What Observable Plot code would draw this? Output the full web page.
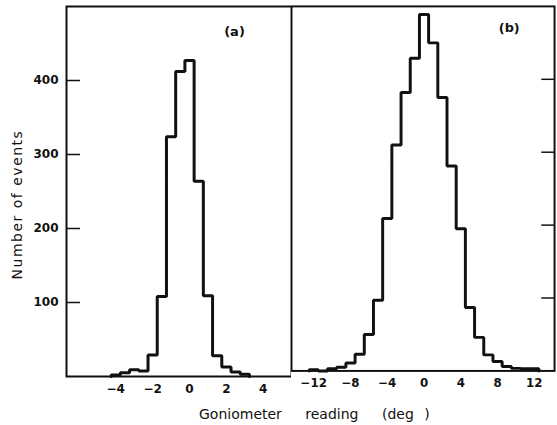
<!DOCTYPE html>
<html><head><meta charset="utf-8">
<script src="https://cdn.jsdelivr.net/npm/d3@7"></script>
<script src="https://cdn.jsdelivr.net/npm/@observablehq/plot@0.6"></script>
<style>
html,body{margin:0;padding:0;background:#fff;overflow:hidden;}
#wrap{position:relative;width:557px;height:425px;overflow:hidden;background:#fff;}
#pa{position:absolute;left:0;top:0;}
#pb{position:absolute;left:291px;top:0;}
#xlabel{position:absolute;left:199px;top:406px;font:14px "DejaVu Sans";word-spacing:19px;white-space:nowrap;color:#111;}
#xlabel span{word-spacing:6px;}
</style></head><body>
<div id="wrap"><div id="pa"></div><div id="pb"></div><div id="xlabel">Goniometer reading <span>(deg )</span></div></div>
<script>
// Panel (a): bin centres (deg) and counts, bin width 0.5
const centersA = [-4,-3.5,-3,-2.5,-2,-1.5,-1,-0.5,0,0.5,1,1.5,2,2.5,3];
const countsA  = [2,5,9,7.5,29,108,324,412,427,264,109,28,13,6,3];
// Panel (b): bin centres (deg) and counts, bin width 1
const centersB = [-12,-11,-10,-9,-8,-7,-6,-5,-4,-3,-2,-1,0,1,2,3,4,5,6,7,8,9,10,11,12];
const countsB  = [1.5,0,3,5,11,23,50,97,209,310,382,429,489,450,375,281,195,87,46,22,13,6,3.5,3,3];
const ticksA = [-4,-2,0,2,4];
const ticksB = [-12,-8,-4,0,4,8,12];
const ticksY = [100,200,300,400];
const labelsPanel = ["(a)","(b)"];
const yLabel = "Number of events";

function stepPoints(centers, counts, w) {
  const pts = [{x: centers[0] - w/2, y: 0}];
  centers.forEach((c, i) => pts.push({x: c - w/2, y: counts[i]}));
  const n = centers.length - 1;
  pts.push({x: centers[n] + w/2, y: counts[n]});
  pts.push({x: centers[n] + w/2, y: 0});
  return pts;
}
const ptsA = stepPoints(centersA, countsA, 0.5);
const ptsB = stepPoints(centersB, countsB, 1);
const ink = "#111";
const common = {height: 425, marginTop: 6, marginBottom: 49,
  y: {domain: [0, 500]},
  style: {fontFamily: "DejaVu Sans", background: "transparent", color: ink}};

const pa = Plot.plot({
  ...common, width: 291, marginLeft: 66, marginRight: 0,
  x: {domain: [-6.67, 5.53]},
  marks: [
    Plot.line(ptsA, {x: "x", y: "y", curve: "step-after", stroke: ink, strokeWidth: 3, strokeLinejoin: "miter"}),
    Plot.frame({stroke: ink, strokeWidth: 2}),
    Plot.axisY(ticksY, {anchor: "left", tickSize: -14, text: null, label: null, stroke: ink, strokeWidth: 1.5}),
    Plot.axisY(ticksY, {anchor: "left", tickSize: 0, tickPadding: 8, fontSize: 12, fontWeight: "bold", label: null, fill: ink}),
    Plot.axisX(ticksA, {anchor: "bottom", tickSize: 0, tickPadding: 8, fontSize: 12, fontWeight: "bold", label: null, fill: ink}),
    Plot.text([labelsPanel[0]], {frameAnchor: "top-right", dx: -57, dy: 25, textAnchor: "middle", lineAnchor: "middle", fontSize: 13, fontWeight: "bold", fill: ink}),
    Plot.text([yLabel], {frameAnchor: "left", rotate: -90, dx: -49, dy: 13, textAnchor: "middle", lineAnchor: "middle", fontSize: 14, fill: ink})
  ]
});
d3.select(pa).selectAll("text").filter(function(){return this.textContent === yLabel;}).style("letter-spacing", "1.5px");
document.getElementById("pa").appendChild(pa);

const pb = Plot.plot({
  ...common, width: 270, marginLeft: 0, marginRight: 3,
  x: {domain: [-14.42, 14.2]},
  marks: [
    Plot.line(ptsB, {x: "x", y: "y", curve: "step-after", stroke: ink, strokeWidth: 3, strokeLinejoin: "miter"}),
    Plot.frame({stroke: ink, strokeWidth: 2}),
    Plot.axisY(ticksY, {anchor: "right", tickSize: -14, text: null, label: null, stroke: ink, strokeWidth: 1.5}),
    Plot.axisX(ticksB, {anchor: "bottom", tickSize: 0, tickPadding: 8, fontSize: 12, fontWeight: "bold", label: null, fill: ink}),
    Plot.text([labelsPanel[1]], {frameAnchor: "top-right", dx: -46, dy: 22, textAnchor: "middle", lineAnchor: "middle", fontSize: 13, fontWeight: "bold", fill: ink})
  ]
});
document.getElementById("pb").appendChild(pb);
</script>
</body></html>
